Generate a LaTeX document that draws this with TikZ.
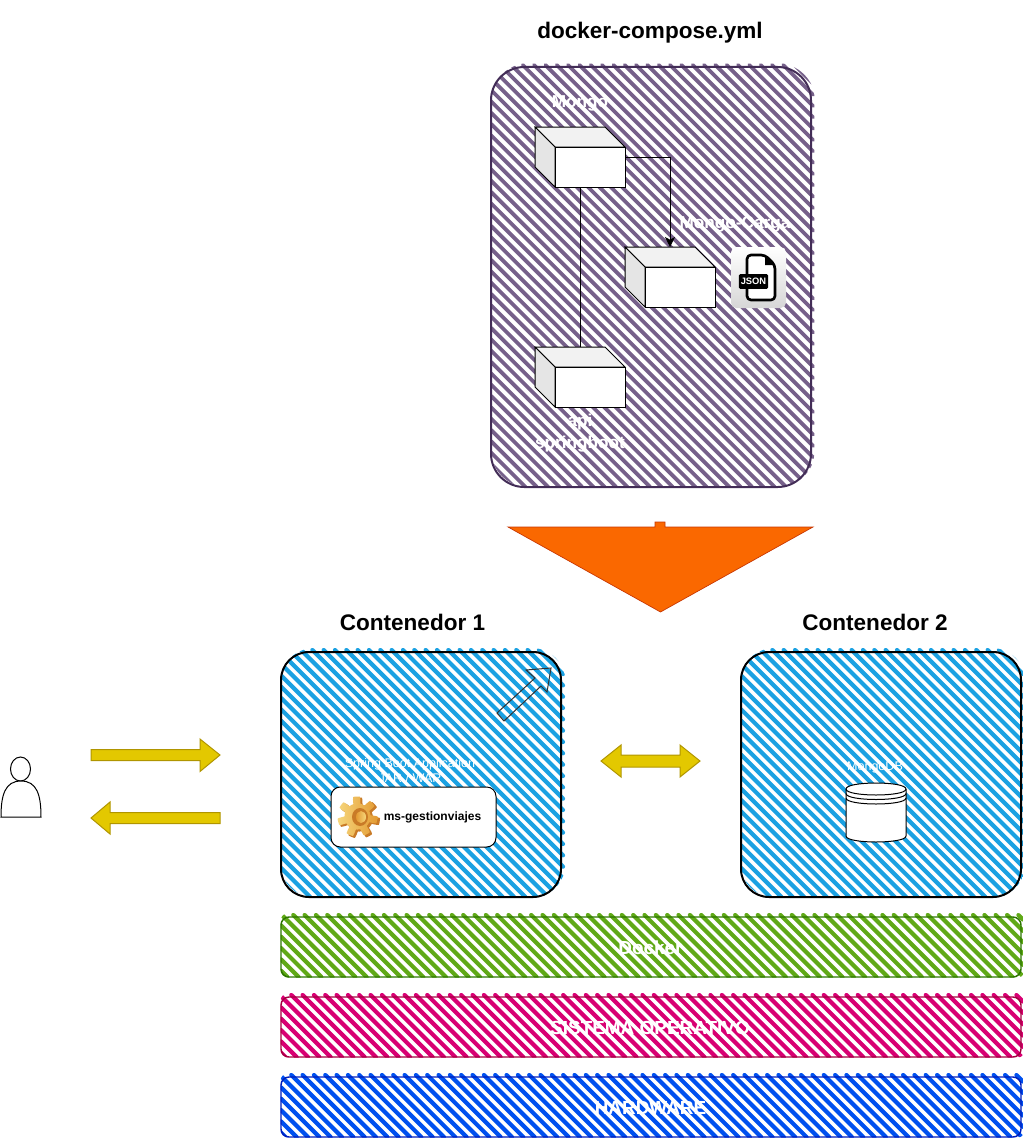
\documentclass[tikz,border=0pt]{standalone}
\usepackage{fontspec}
\setmainfont{Liberation Sans}
\usetikzlibrary{arrows.meta,shapes.geometric}
\definecolor{cpurple}{HTML}{76608A}\definecolor{spurple}{HTML}{432D57}
\definecolor{ccyan}{HTML}{1BA1E2}
\definecolor{cgreen}{HTML}{60A917}\definecolor{sgreen}{HTML}{2D7600}
\definecolor{cpink}{HTML}{D80073}\definecolor{spink}{HTML}{A50040}
\definecolor{cblue}{HTML}{0050EF}\definecolor{sblue}{HTML}{001DBC}
\definecolor{corange}{HTML}{FA6800}\definecolor{sorange}{HTML}{C73500}
\definecolor{cyellow}{HTML}{E3C800}\definecolor{syellow}{HTML}{B09500}
\definecolor{gearA}{HTML}{F6D67C}\definecolor{gearB}{HTML}{E39A32}\definecolor{gearC}{HTML}{C97B27}
% hatch: x1,y1,x2,y2,radius(px),colour,width(px),cref
\newcommand\hatchfill[8]{%
 \begin{scope}
 \clip[rounded corners=(#5+6)*0.75pt] (#1-0.5,#2-4) rectangle (#3+4.5,#4+0.5);
 \pgfmathtruncatemacro\kmin{floor((#1-#4-(#8))/11.33)}
 \pgfmathtruncatemacro\kmax{ceil((#3-#2-(#8))/11.33)+1}
 \foreach \k in {\kmin,...,\kmax}{
  \pgfmathsetmacro\cc{(#8)+11.33*\k}
  \pgfmathsetmacro\sx{max(\cc+#2-2,#1)}
  \pgfmathsetmacro\sy{\sx-\cc}
  \pgfmathsetmacro\ex{min(\cc+#4,#3+2)}
  \pgfmathsetmacro\ey{\ex-\cc}
  \draw[#6,line width=#7*0.75pt,line cap=round] (\sx,\sy) -- (\ex,\ey);
 }
 \end{scope}}
\tikzset{
 panel/.style={draw,rectangle,inner sep=0pt,outer sep=0pt,fill=none},
 boxframe/.style={panel,line width=1.5pt,rounded corners=21pt},
 barframe/.style={panel,line width=1.1pt,rounded corners=6pt},
 htext/.style={font=\bfseries\fontsize{16.9}{20}\selectfont,text=black},
 wbig/.style={font=\bfseries\fontsize{14.2}{17}\selectfont,text=white},
 wmid/.style={font=\bfseries\fontsize{12.9}{17}\selectfont,text=white,align=center},
 wsmall/.style={font=\fontsize{9.4}{11.2}\selectfont,text=white,align=center},
 cubenode/.style={rectangle,inner sep=0pt,outer sep=0pt,minimum width=67.5pt,minimum height=45pt},
 conn/.style={draw=black,line width=0.75pt},
 yarrow/.style={draw=syellow,fill=cyellow,line width=0.75pt},
 tip/.style={-{Stealth[length=7.5pt,width=7.5pt,inset=2pt]}}
}
\begin{document}
\begin{tikzpicture}[x=0.75pt,y=-0.75pt]
\useasboundingbox (0,0) rectangle (1022,1138);
% titles
\node[htext] (t0) at (650,33) {docker-compose.yml};
\node[htext] (t1) at (412.5,622) {Contenedor 1};
\node[htext] (t2) at (875,622) {Contenedor 2};
% compose panel
\hatchfill{491}{67}{811}{487}{33}{cpurple}{3.8}{457.7}
\node[boxframe,draw=spurple,minimum width=240pt,minimum height=315pt,rounded corners=25pt] (compose) at (651,277) {};
% cubes
\node[cubenode] (mongo) at (580,157) {};
\node[cubenode] (carga) at (670,277) {};
\node[cubenode] (api) at (580,377) {};
\draw[conn] (mongo.south) -- (api.north);
\draw[conn,tip] (mongo.east) -| (carga.north);
\foreach \n in {mongo,carga,api}{
 \draw[black,line width=0.75pt,fill=black!5] (\n.north west) -- ++(52.5pt,0) -- ++(15pt,-15pt) -- ++(-52.5pt,0) -- cycle;
 \draw[black,line width=0.75pt,fill=black!10] (\n.north west) -- ++(15pt,-15pt) -- ++(0,-30pt) -- ++(-15pt,15pt) -- cycle;
 \draw[black,line width=0.75pt,fill=white] ([xshift=15pt]\n.south west) rectangle ([yshift=-15pt]\n.north east);
}
\node[wmid] (lmongo) at (580,103) {Mongo};
\node[wmid] (lcarga) at (735,224) {Mongo-Carga};
\node[wmid] (lapi) at (580,433) {api\\springboot};
% JSON icon
\shade[top color=white,bottom color=black!16,rounded corners=4pt] (731,247) rectangle (786,308);
\draw[black,line width=2pt,fill=white,line join=round,rounded corners=3pt] (747,255) -- (765,255) -- (775,265) -- (775,300) -- (747,300) -- cycle;
\fill[black] (765,255) -- (775,265) -- (765,265) -- cycle;
\node[fill=black,rounded corners=1pt,inner sep=0pt,minimum width=22pt,minimum height=11pt,text=white,font=\bfseries\fontsize{7}{8}\selectfont] (json) at (753.5,281.5) {JSON};
% big orange arrow
\draw[draw=sorange,fill=corange,line width=0.5pt,line join=miter] (655,527) -- (655,522) -- (665,522) -- (665,527) -- (813,527) -- (660.5,612) -- (508,527) -- cycle;
% containers
\hatchfill{281}{652}{561}{897}{28}{ccyan}{4.2}{-326.3}
\node[boxframe,minimum width=210pt,minimum height=183.75pt] (c1) at (421,774.5) {};
\hatchfill{741}{652}{1021}{897}{28}{ccyan}{4.2}{133.7}
\node[boxframe,minimum width=210pt,minimum height=183.75pt] (c2) at (881,774.5) {};
% small outlined arrow
\draw[black!80,line width=0.75pt,line join=miter] (497,713) -- (535,678) -- (526,670) -- (551,668) -- (547,692) -- (541,686) -- (504,721) -- cycle;
% labels
\node[wsmall] (lspring) at (410,770.5) {Spring Boot Application\\JAR / WAR};
\node[wsmall] (lmdb) at (875,767) {MongoDB};
% card
\node[panel,draw=black,fill=white,line width=0.75pt,rounded corners=7pt,minimum width=123.75pt,minimum height=45pt] (card) at (413.5,817) {};
\fill[gearC] plot[domain=0:360,samples=200,smooth cycle] ({359.5+(17+3.5*max(-1,min(1,3*sin(7*\x+20))))*cos(\x)},{818+(17+3.5*max(-1,min(1,3*sin(7*\x+20))))*sin(\x)});
\shade[left color=gearA,right color=gearB] plot[domain=0:360,samples=200,smooth cycle] ({357.5+(16.5+3.5*max(-1,min(1,3*sin(7*\x+20))))*cos(\x)},{816.5+(16.5+3.5*max(-1,min(1,3*sin(7*\x+20))))*sin(\x)});
\fill[gearC] (360,817) ellipse [x radius=8,y radius=9];
\shade[left color=gearB,right color=gearA] (361,817) ellipse [x radius=5,y radius=6];
\node[font=\bfseries\fontsize{9}{11}\selectfont,text=black] (lms) at (432.5,817.5) {ms-gestionviajes};
% cylinder
\draw[black,line width=0.75pt,fill=white] (846,789) -- (846,836) .. controls (846,844) and (906,844) .. (906,836) -- (906,789) .. controls (906,781) and (846,781) .. (846,789) -- cycle;
\draw[black,line width=0.75pt] (846,789) .. controls (846,797) and (906,797) .. (906,789);
\draw[black,line width=0.75pt] (846,793.5) .. controls (846,801.5) and (906,801.5) .. (906,793.5);
\draw[black,line width=0.75pt] (846,798) .. controls (846,806) and (906,806) .. (906,798);
% bars
\hatchfill{281}{917}{1021}{977}{2}{cgreen}{4.2}{-621.7}
\node[barframe,draw=sgreen,minimum width=555pt,minimum height=45pt] (docker) at (651,947) {};
\hatchfill{281}{997}{1021}{1057}{2}{cpink}{4.2}{-703.7}
\node[barframe,draw=spink,minimum width=555pt,minimum height=45pt] (so) at (651,1027) {};
\hatchfill{281}{1077}{1021}{1137}{2}{cblue}{4.2}{-783.7}
\node[barframe,draw=sblue,minimum width=555pt,minimum height=45pt] (hw) at (651,1107) {};
\node[wbig] (ldocker) at (650.5,947.5) {Docker};
\node[wbig] (lso) at (650,1027.5) {SISTEMA OPERATIVO};
\node[wbig] (lhw) at (650.5,1107.5) {HARDWARE};
% yellow arrows
\draw[yarrow] (91,749.5) -- (200,749.5) -- (200,739) -- (220,755) -- (200,771.5) -- (200,760.5) -- (91,760.5) -- cycle;
\draw[yarrow] (220,812.5) -- (110,812.5) -- (110,802) -- (91,818) -- (110,834) -- (110,823.5) -- (220,823.5) -- cycle;
\draw[yarrow] (601,761) -- (621,745) -- (621,755) -- (680,755) -- (680,745) -- (700,761) -- (680,777) -- (680,767) -- (621,767) -- (621,777) -- cycle;
% person
\draw[black,line width=0.75pt] (20.5,769) ellipse [x radius=10,y radius=12];
\draw[black,line width=0.75pt,fill=white] (1,817) .. controls (1,795) and (5,781) .. (21,781) .. controls (37,781) and (41,795) .. (41,817) -- cycle;
\end{tikzpicture}
\end{document}
